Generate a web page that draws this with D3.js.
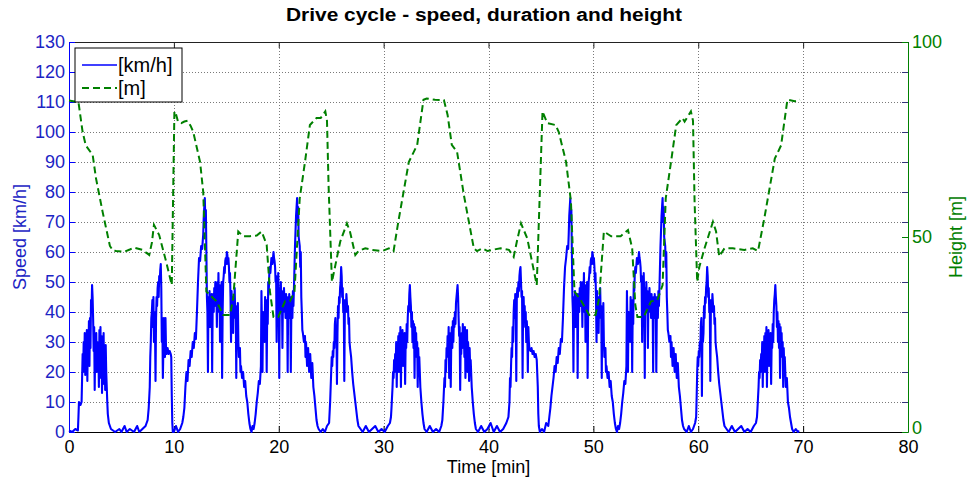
<!DOCTYPE html>
<html>
<head>
<meta charset="utf-8">
<script src="https://cdn.jsdelivr.net/npm/d3@7"></script>
<style>
  body { margin: 0; background: #fff; }
  text { font-family: "Liberation Sans", Arial, Helvetica, sans-serif; }
</style>
</head>
<body>
<svg width="968" height="481"></svg>
<script>
// ticks
const timeTicks = [0, 10, 20, 30, 40, 50, 60, 70, 80];
const speedTicks = [0, 10, 20, 30, 40, 50, 60, 70, 80, 90, 100, 110, 120, 130];
const heightTicks = [0, 50, 100];

// speed [min, km/h]
const speedA1 = [[0,0.5],[0.3,0],[0.6,1],[0.85,0.5],[0.9,5],[0.95,10],[1.1,9],[1.2,10],[1.25,18],[1.3,26],[1.35,20],[1.4,30],[1.45,22],[1.5,33],[1.55,19],[1.6,32],[1.65,26],[1.7,34],[1.75,17],[1.8,33],[1.85,24],[1.9,37],[1.95,22],[2.0,38],[2.05,28],[2.1,44],[2.15,40],[2.2,49],[2.25,45],[2.3,38],[2.35,27],[2.4,35],[2.45,14],[2.5,30],[2.55,25],[2.6,33],[2.65,20],[2.7,30],[2.75,22],[2.8,28],[2.85,15],[2.9,34],[2.95,24],[3.0,35],[3.05,18],[3.1,32],[3.15,13],[3.2,30],[3.25,22],[3.3,33],[3.35,16],[3.4,28],[3.45,14],[3.5,29],[3.55,20],[3.6,15],[3.65,10],[3.7,6],[3.8,3],[3.9,2],[4.0,1],[4.2,0.5],
  [4.4,0],[4.8,1],[5.0,0],[5.3,2],[5.5,0],[5.8,1],[6.2,0],[6.5,2],[6.7,0],[7.0,1],[7.3,2],[7.5,4]];
const speedB1 = [[7.6,8],[7.7,15],[7.75,25],[7.8,30],[7.85,38],[7.9,40],[7.95,44],[8.0,35],[8.05,45],[8.1,30],[8.15,40],[8.2,35],[8.25,17],[8.3,38],[8.35,45],[8.4,42],[8.45,48],[8.5,50],[8.55,45],[8.6,52],[8.65,50],[8.7,54],[8.75,56],[8.8,48],[8.85,30],[8.9,38],[8.95,18],[9.0,28],[9.05,38],[9.1,30],[9.15,25],[9.2,38],[9.25,28],[9.3,26],[9.4,28],[9.5,26],[9.6,27],[9.7,26],[9.75,25],[9.8,12],[9.85,3],[9.9,0],
  [10.0,0],[10.2,2],[10.4,0],[10.6,1],[10.8,3],[10.9,5]];
const speedC1 = [[11.0,8],[11.1,15],[11.2,20],[11.3,17],[11.4,24],[11.5,22],[11.6,27],[11.7,25],[11.8,30],[11.9,28],[12.0,33],[12.1,31],[12.2,40],[12.3,50],[12.4,58],[12.5,57],[12.6,62],[12.7,61],[12.8,66],[12.85,72],[12.95,78],[13.0,70],[13.05,74],[13.1,60],[13.15,45],[13.2,40],[13.25,20],[13.3,45],[13.35,38],[13.4,47],[13.45,35],[13.5,44],[13.55,40],[13.6,46],[13.65,20],[13.7,42],[13.75,46],[13.8,40],[13.85,48],[13.9,42],[13.95,50],[14.0,45],[14.05,48],[14.1,35],[14.15,50],[14.2,42],[14.25,53],[14.3,40],[14.35,49],[14.4,30],[14.45,45],[14.5,43],[14.55,50],[14.6,18],[14.65,40],[14.7,50],[14.75,52],[14.8,55],[14.85,53],[14.9,57],[14.95,58],[15.0,56],[15.05,60],[15.1,59],[15.15,56],[15.2,58],[15.25,55],[15.3,50],[15.35,53],[15.4,45],[15.45,30],[15.5,47],[15.55,40],[15.6,43],[15.65,33],[15.7,45],[15.75,40],[15.8,48],[15.85,38],[15.9,42],[15.95,18],[16.0,40],[16.05,35],[16.1,43],[16.15,30],[16.2,25],[16.3,28],[16.35,20],[16.4,22],[16.5,18],[16.6,20],[16.7,15],[16.8,17],[16.9,12],[17.0,10],[17.1,6],[17.2,3],[17.3,1],[17.4,0],[17.5,2],[17.6,1],[17.7,3],[17.8,6],[17.9,10],[18.0,13],[18.1,17],[18.2,16],[18.3,22],[18.35,47],[18.4,35],[18.45,20],[18.5,40],[18.55,35],[18.6,38],[18.65,30],[18.7,45],[18.75,40],[18.8,44],[18.85,20],[18.9,40],[18.95,36],[19.0,50],[19.05,47],[19.1,53],[19.15,55],[19.2,53],[19.3,58],[19.4,56],[19.5,60],[19.55,58],[19.6,57],[19.65,55],[19.7,50],[19.75,52],[19.8,30],[19.85,45],[19.9,43],[19.95,53],[20.0,45],[20.05,18],[20.1,48],[20.15,40],[20.2,50],[20.25,42],[20.3,47],[20.35,28],[20.4,45],[20.45,40],[20.5,48],[20.55,42],[20.6,45],[20.65,38],[20.7,46],[20.75,40],[20.8,44],[20.85,20],[20.9,45],[20.95,38],[21.0,46],[21.05,42],[21.1,45],[21.15,20],[21.2,40],[21.25,45],[21.3,38],[21.35,47],[21.4,42],[21.45,48],[21.5,55],[21.55,62],[21.65,72],[21.75,78],[21.8,70],[21.85,75],[21.9,65],[22.0,62],[22.05,55],[22.1,60],[22.15,45],[22.2,40],[22.25,34],[22.3,33],[22.4,30],[22.5,32],[22.55,25],[22.6,30],[22.7,22],[22.8,28],[22.9,20],[23.0,26],[23.1,18],[23.2,23],[23.3,15],[23.4,12],[23.5,8],[23.6,4],[23.7,2],[23.8,1],
  [24.0,0],[24.2,1],[24.4,0],[24.6,2],[24.8,3]];
const speedB2 = [[24.9,10],[25.0,20],[25.05,25],[25.1,22],[25.15,27],[25.2,25],[25.25,30],[25.3,28],[25.35,36],[25.4,38],[25.45,30],[25.5,35],[25.55,16],[25.6,33],[25.65,42],[25.7,38],[25.75,45],[25.8,43],[25.85,48],[25.9,50],[25.95,55],[26.0,52],[26.05,45],[26.1,48],[26.15,40],[26.2,44],[26.25,17],[26.3,40],[26.35,44],[26.4,40],[26.45,46],[26.5,43],[26.55,40],[26.6,42],[26.65,36],[26.7,38],[26.75,30],[26.8,28],[26.9,25],[27.0,20],[27.1,16],[27.2,13],[27.3,10],[27.4,7],[27.5,4],[27.6,2],[27.8,1],
  [28.0,0],[28.3,2],[28.6,0],[28.9,1],[29.2,2],[29.5,0],[29.8,1],[30.1,0],[30.4,2],[30.6,3],[30.7,5]];
const speedA2 = [[30.75,8],[30.85,15],[30.9,20],[30.95,18],[31.0,24],[31.05,20],[31.1,26],[31.15,22],[31.2,30],[31.25,15],[31.3,28],[31.35,25],[31.4,32],[31.45,20],[31.5,33],[31.55,25],[31.6,35],[31.65,15],[31.7,30],[31.75,26],[31.8,34],[31.85,22],[31.9,30],[31.95,25],[32.0,33],[32.05,16],[32.1,30],[32.15,28],[32.2,36],[32.25,30],[32.3,38],[32.35,42],[32.4,40],[32.45,46],[32.5,49],[32.55,45],[32.6,42],[32.65,35],[32.7,40],[32.75,30],[32.8,37],[32.85,28],[32.9,36],[32.95,18],[33.0,35],[33.05,28],[33.1,33],[33.15,25],[33.2,30],[33.25,15],[33.3,28],[33.35,22],[33.4,25],[33.5,15],[33.6,10],[33.7,6],[33.8,3],[33.9,1],
  [34.1,0],[34.4,2],[34.7,0],[35.0,1],[35.3,0],[35.5,2]];
const speedA3 = [[35.6,4],[35.7,10],[35.8,18],[35.85,15],[35.9,24],[35.95,20],[36.0,28],[36.05,25],[36.1,32],[36.15,26],[36.2,35],[36.25,18],[36.3,33],[36.35,27],[36.4,15],[36.45,30],[36.5,35],[36.55,28],[36.6,37],[36.65,30],[36.7,38],[36.75,35],[36.8,40],[36.85,36],[36.9,43],[36.95,45],[37.0,47],[37.05,49],[37.1,45],[37.15,38],[37.2,32],[37.25,35],[37.3,14],[37.35,30],[37.4,26],[37.45,33],[37.5,28],[37.55,36],[37.6,30],[37.65,34],[37.7,25],[37.75,35],[37.8,18],[37.85,32],[37.9,28],[37.95,34],[38.0,20],[38.05,30],[38.1,26],[38.15,17],[38.2,28],[38.25,22],[38.3,24],[38.4,15],[38.5,10],[38.6,6],[38.7,3],[38.8,1],
  [39.0,0],[39.3,2],[39.6,0],[39.9,1],[40.2,3],[40.5,0],[40.8,2],[41.1,0],[41.4,1],[41.7,3],[41.9,5]];
const speedB3 = [[42.0,10],[42.05,18],[42.1,15],[42.15,22],[42.2,28],[42.25,25],[42.3,35],[42.35,30],[42.4,40],[42.45,44],[42.5,38],[42.55,46],[42.6,40],[42.65,17],[42.7,45],[42.75,48],[42.8,45],[42.85,50],[42.9,47],[42.95,52],[43.0,54],[43.05,55],[43.1,50],[43.15,45],[43.2,47],[43.25,18],[43.3,42],[43.35,45],[43.4,38],[43.45,42],[43.5,35],[43.55,40],[43.6,30],[43.65,37],[43.7,33],[43.75,20],[43.8,35],[43.85,30],[43.9,28],[44.0,27],[44.1,28],[44.2,26],[44.3,27],[44.4,25],[44.5,26],[44.6,24],[44.7,15],[44.75,6],[44.8,2],[44.9,0],
  [45.1,1],[45.3,0],[45.5,3],[45.7,2]];
const speedC2 = [[45.8,5],[45.9,8],[46.0,12],[46.1,15],[46.2,18],[46.3,22],[46.4,20],[46.5,25],[46.6,23],[46.7,28],[46.8,26],[46.9,31],[47.0,30],[47.1,38],[47.2,48],[47.3,55],[47.4,58],[47.5,62],[47.6,61],[47.65,66],[47.7,72],[47.8,78],[47.85,70],[47.9,74],[47.95,60],[48.0,45],[48.05,40],[48.1,20],[48.15,45],[48.2,38],[48.25,47],[48.3,35],[48.35,44],[48.4,40],[48.45,46],[48.5,18],[48.55,42],[48.6,46],[48.65,40],[48.7,48],[48.75,42],[48.8,50],[48.85,45],[48.9,48],[48.95,35],[49.0,50],[49.05,42],[49.1,53],[49.15,40],[49.2,49],[49.25,30],[49.3,45],[49.35,43],[49.4,50],[49.45,18],[49.5,40],[49.55,50],[49.6,52],[49.65,55],[49.7,53],[49.75,57],[49.8,58],[49.85,56],[49.9,60],[49.95,59],[50.0,56],[50.05,58],[50.1,55],[50.15,50],[50.2,53],[50.25,45],[50.3,30],[50.35,47],[50.4,40],[50.45,43],[50.5,33],[50.55,45],[50.6,40],[50.65,48],[50.7,38],[50.75,42],[50.8,18],[50.85,40],[50.9,35],[50.95,43],[51.0,30],[51.05,25],[51.15,28],[51.2,20],[51.25,22],[51.35,18],[51.45,20],[51.55,15],[51.65,17],[51.75,12],[51.85,10],[51.95,6],[52.05,3],[52.15,1],[52.25,0],[52.35,2],[52.45,1],[52.55,3],[52.65,6],[52.75,10],[52.85,13],[52.95,17],[53.05,16],[53.15,22],[53.2,47],[53.25,35],[53.3,20],[53.35,40],[53.4,35],[53.45,38],[53.5,30],[53.55,45],[53.6,40],[53.65,44],[53.7,20],[53.75,40],[53.8,36],[53.85,50],[53.9,47],[53.95,53],[54.0,55],[54.05,53],[54.15,58],[54.25,56],[54.35,60],[54.4,58],[54.45,57],[54.5,55],[54.55,50],[54.6,52],[54.65,30],[54.7,45],[54.75,43],[54.8,53],[54.85,45],[54.9,18],[54.95,48],[55.0,40],[55.05,50],[55.1,42],[55.15,47],[55.2,28],[55.25,45],[55.3,40],[55.35,48],[55.4,42],[55.45,45],[55.5,38],[55.55,46],[55.6,40],[55.65,44],[55.7,20],[55.75,45],[55.8,38],[55.85,46],[55.9,42],[55.95,45],[56.0,20],[56.05,40],[56.1,45],[56.15,38],[56.2,47],[56.25,42],[56.3,48],[56.35,55],[56.4,62],[56.5,72],[56.6,78],[56.65,70],[56.7,75],[56.75,65],[56.85,62],[56.9,55],[56.95,60],[57.0,45],[57.05,40],[57.1,34],[57.15,33],[57.25,30],[57.35,32],[57.4,25],[57.45,30],[57.55,22],[57.65,28],[57.75,20],[57.85,26],[57.95,18],[58.05,23],[58.15,15],[58.25,12],[58.35,8],[58.45,4],[58.55,2],[58.65,1],
  [58.9,0],[59.1,2],[59.3,0],[59.5,1],[59.7,3]];
const speedB4 = [[59.8,5],[59.85,12],[59.9,20],[59.95,25],[60.0,22],[60.05,27],[60.1,25],[60.15,30],[60.2,28],[60.25,36],[60.3,38],[60.35,12],[60.4,35],[60.45,30],[60.5,33],[60.55,42],[60.6,38],[60.65,45],[60.7,43],[60.75,48],[60.8,50],[60.85,55],[60.9,52],[60.95,45],[61.0,48],[61.05,40],[61.1,44],[61.15,17],[61.2,40],[61.25,44],[61.3,40],[61.35,46],[61.4,43],[61.45,40],[61.5,42],[61.55,36],[61.6,38],[61.65,30],[61.7,28],[61.8,25],[61.9,20],[62.0,16],[62.1,13],[62.2,10],[62.3,7],[62.4,4],[62.5,2],[62.7,1],
  [62.9,0],[63.2,2],[63.5,0],[63.8,1],[64.1,2],[64.4,0],[64.7,1],[65.0,0],[65.3,2],[65.5,3],[65.6,5]];
const speedA4 = [[65.65,8],[65.75,15],[65.8,20],[65.85,18],[65.9,24],[65.95,20],[66.0,26],[66.05,22],[66.1,30],[66.15,15],[66.2,28],[66.25,25],[66.3,32],[66.35,20],[66.4,33],[66.45,25],[66.5,35],[66.55,15],[66.6,30],[66.65,26],[66.7,34],[66.75,22],[66.8,30],[66.85,25],[66.9,33],[66.95,16],[67.0,30],[67.05,28],[67.1,36],[67.15,30],[67.2,40],[67.25,44],[67.3,46],[67.35,49],[67.4,45],[67.45,42],[67.5,35],[67.55,40],[67.6,30],[67.65,37],[67.7,28],[67.75,36],[67.8,18],[67.85,35],[67.9,28],[67.95,33],[68.0,25],[68.05,30],[68.1,15],[68.15,28],[68.2,22],[68.25,25],[68.35,15],[68.45,18],[68.55,10],[68.65,8],[68.75,5],[68.85,3],[68.95,1],[69.1,0],[69.3,1],[69.5,0],[69.6,0.5]];

// height [min, m]
const heightTime = [0, 0.9, 1.3, 1.6, 2.26, 2.57, 3.2, 3.9, 4.2, 4.5, 5.27, 5.8, 6.2, 7.0, 7.65, 7.9, 8.1, 8.6, 9.25, 9.8,
  10.05, 10.2, 10.4, 10.7, 11.0, 11.3, 11.6, 11.85, 12.5, 12.8, 13.1, 13.75, 14.08, 14.7, 15.35, 15.66, 16.14, 16.6, 17.25, 17.9, 18.37, 18.85, 19.16, 19.5, 19.95, 20.6, 21.07, 21.5, 22.0, 22.5, 22.97, 23.6,
  24.0, 24.44, 24.6, 24.75, 25.07, 25.4, 25.86, 26.5, 26.8, 27.3, 27.6, 28.25, 28.9, 29.85, 30.5, 30.95, 31.4, 32.4, 33.2, 33.8, 34.1, 34.9,
  35.75, 36.1, 36.5, 37.0, 37.65, 38.6, 38.9, 39.4, 39.9, 40.35, 41.15, 41.95, 42.4, 42.7, 43.1, 43.7, 44.6, 45.15,
  45.6, 46.4, 46.7, 47.4, 47.86, 48.2, 48.8, 49.6, 50.2, 50.55, 51.0, 51.7, 52.6, 53.3, 53.7, 54.0, 54.2, 54.8, 55.5, 56.1, 56.6, 56.9, 57.4, 57.9, 58.5,
  58.7, 59.3, 59.5, 59.65, 59.9, 60.1, 60.6, 61.4, 61.7, 62.0, 62.5, 63.3, 64.4, 65.2, 65.7, 66.3, 67.3, 67.9, 68.5, 69.2, 69.7];
const heightM = [85.0, 84.6, 76.9, 73.5, 71.0, 65.1, 56.5, 47.7, 46.5, 46.4, 46.2, 46.8, 47.3, 46.7, 45.4, 48.5, 53.1, 50.5, 43.8, 37.7,
  82.2, 81.5, 79.5, 79.2, 79.6, 79.8, 78.5, 76.9, 69.2, 61.5, 36.0, 34.3, 33.5, 30.0, 30.0, 34.3, 51.4, 50.2, 50.2, 50.4, 51.4, 48.0, 36.0, 29.5, 29.5, 33.5, 33.5, 36.0, 59.9, 69.2, 78.7, 80.5,
  80.5, 82.2, 79.8, 63.3, 38.5, 42.8, 48.8, 53.5, 51.3, 45.4, 46.4, 47.1, 46.7, 46.4, 47.1, 46.4, 53.9, 69.2, 73.6, 85.2, 85.5, 85.2,
  85.1, 81.3, 73.6, 71.9, 60.8, 47.1, 46.4, 47.1, 46.4, 46.7, 47.1, 46.7, 44.9, 48.8, 53.5, 49.6, 37.7, 82.2,
  79.2, 78.7, 76.9, 69.2, 59.1, 36.0, 33.8, 30.0, 30.0, 34.3, 51.4, 50.2, 50.2, 51.8, 47.1, 32.5, 29.5, 29.5, 33.5, 33.8, 37.7, 59.9, 69.2, 78.7, 80.5,
  79.6, 82.2, 79.8, 59.1, 38.5, 42.3, 47.1, 53.9, 51.4, 45.0, 47.1, 47.1, 46.7, 47.1, 46.4, 54.8, 70.1, 73.5, 85.2, 84.8, 85.2];

const speed = [].concat(speedA1, speedB1, speedC1, speedB2, speedA2, speedA3, speedB3, speedC2, speedB4, speedA4);
const height = heightTime.map((t, i) => [t, heightM[i]]);

const blue = "#0000ff";
const blueText = "#1c24c4";
const green = "#008000";
const fontSize = 18;

const svg = d3.select("svg");
const plotL = 69, plotR = 908, plotT = 42, plotB = 432;

const x = d3.scaleLinear().domain([0, 80]).range([plotL, plotR]);
const ySpeed = d3.scaleLinear().domain([0, 130]).range([plotB, plotT]);
const yHeight = d3.scaleLinear().domain([0, 100]).range([plotB, plotT]);

// dotted grid
const grid = svg.append("g").attr("stroke", "#7a7a7a").attr("stroke-width", 1).attr("stroke-dasharray", "1,2");
grid.selectAll("line.v")
    .data(timeTicks.filter(d => d > 0 && d < 80))
    .enter().append("line")
    .attr("x1", d => Math.round(x(d)) + 0.5).attr("x2", d => Math.round(x(d)) + 0.5)
    .attr("y1", plotT).attr("y2", plotB);
grid.selectAll("line.h")
    .data(speedTicks.filter(d => d > 0 && d < 130))
    .enter().append("line")
    .attr("x1", plotL).attr("x2", plotR)
    .attr("y1", d => Math.round(ySpeed(d)) + 0.5).attr("y2", d => Math.round(ySpeed(d)) + 0.5);

// axes (MATLAB style, ticks pointing inwards)
const xAxis = svg.append("g")
    .attr("transform", `translate(0,${plotB})`)
    .call(d3.axisBottom(x).tickValues(timeTicks).tickSize(-6).tickPadding(8).tickSizeOuter(0));
xAxis.select(".domain").attr("stroke", "#000");
xAxis.selectAll("line").attr("stroke", "#000");
xAxis.selectAll("text").attr("font-size", fontSize).attr("fill", "#000").attr("font-family", "Liberation Sans, Arial, sans-serif");

svg.append("g")
    .attr("transform", `translate(0,${plotT})`)
    .call(d3.axisTop(x).tickValues(timeTicks).tickSize(-6).tickFormat("").tickSizeOuter(0))
    .call(g => g.select(".domain").attr("stroke", "#222"))
    .call(g => g.selectAll("line").attr("stroke", "#222"));

const yAxisL = svg.append("g")
    .attr("transform", `translate(${plotL},0)`)
    .call(d3.axisLeft(ySpeed).tickValues(speedTicks).tickSize(-6).tickPadding(4).tickSizeOuter(0));
yAxisL.select(".domain").attr("stroke", blue);
yAxisL.selectAll("line").attr("stroke", blue);
yAxisL.selectAll("text").attr("font-size", fontSize).attr("fill", blueText).attr("font-family", "Liberation Sans, Arial, sans-serif");

// left ticks mirrored on the right edge
svg.append("g")
    .attr("transform", `translate(${plotR},0)`)
    .call(d3.axisRight(ySpeed).tickValues(speedTicks).tickSize(-6).tickFormat("").tickSizeOuter(0))
    .call(g => g.select(".domain").remove())
    .call(g => g.selectAll("line").attr("stroke", "#33337a"));

const yAxisR = svg.append("g")
    .attr("transform", `translate(${plotR},0)`)
    .call(d3.axisRight(yHeight).tickValues(heightTicks).tickSize(-6).tickPadding(4).tickSizeOuter(0));
yAxisR.select(".domain").attr("stroke", green);
yAxisR.selectAll("line").attr("stroke", green);
yAxisR.selectAll("text").attr("font-size", fontSize).attr("fill", green).attr("font-family", "Liberation Sans, Arial, sans-serif");
yAxisR.selectAll(".tick").filter(d => d === 0).select("text").attr("dy", "0.1em");

// lines
const lineSpeed = d3.line().x(d => x(d[0])).y(d => ySpeed(d[1]));
const lineHeight = d3.line().x(d => x(d[0])).y(d => yHeight(d[1]));

svg.append("path")
    .datum(speed)
    .attr("d", lineSpeed)
    .attr("fill", "none")
    .attr("stroke", blue)
    .attr("stroke-width", 2.1)
    .attr("stroke-linejoin", "round");

svg.append("path")
    .datum(height)
    .attr("d", lineHeight)
    .attr("fill", "none")
    .attr("stroke", green)
    .attr("stroke-width", 2)
    .attr("stroke-dasharray", "7,4");

// titles
svg.append("text")
    .attr("x", 484).attr("y", 21)
    .attr("text-anchor", "middle")
    .attr("font-size", 18).attr("font-weight", "bold")
    .attr("textLength", 396).attr("lengthAdjust", "spacingAndGlyphs")
    .text("Drive cycle - speed, duration and height");

svg.append("text")
    .attr("x", (plotL + plotR) / 2).attr("y", 473)
    .attr("text-anchor", "middle")
    .attr("font-size", fontSize)
    .text("Time [min]");

svg.append("text")
    .attr("transform", `translate(26,${(plotT + plotB) / 2}) rotate(-90)`)
    .attr("text-anchor", "middle")
    .attr("font-size", fontSize).attr("fill", blueText)
    .text("Speed [km/h]");

svg.append("text")
    .attr("transform", `translate(962,${(plotT + plotB) / 2}) rotate(-90)`)
    .attr("text-anchor", "middle")
    .attr("font-size", fontSize).attr("fill", green)
    .text("Height [m]");

// legend
const legend = svg.append("g").attr("transform", "translate(75,48)");
legend.append("rect")
    .attr("width", 107).attr("height", 54)
    .attr("fill", "#fff").attr("stroke", "#000").attr("stroke-width", 1);
const items = [
    { label: "[km/h]", color: blue, dash: null, w: 1.6 },
    { label: "[m]", color: green, dash: "7,4", w: 2 }
];
items.forEach((it, i) => {
    const yy = 17 + i * 23;
    legend.append("line")
        .attr("x1", 7).attr("x2", 42).attr("y1", yy).attr("y2", yy)
        .attr("stroke", it.color).attr("stroke-width", it.w)
        .attr("stroke-dasharray", it.dash);
    legend.append("text")
        .attr("x", 43).attr("y", yy)
        .attr("dy", "0.35em")
        .attr("font-size", 20)
        .text(it.label);
});
</script>
</body>
</html>
